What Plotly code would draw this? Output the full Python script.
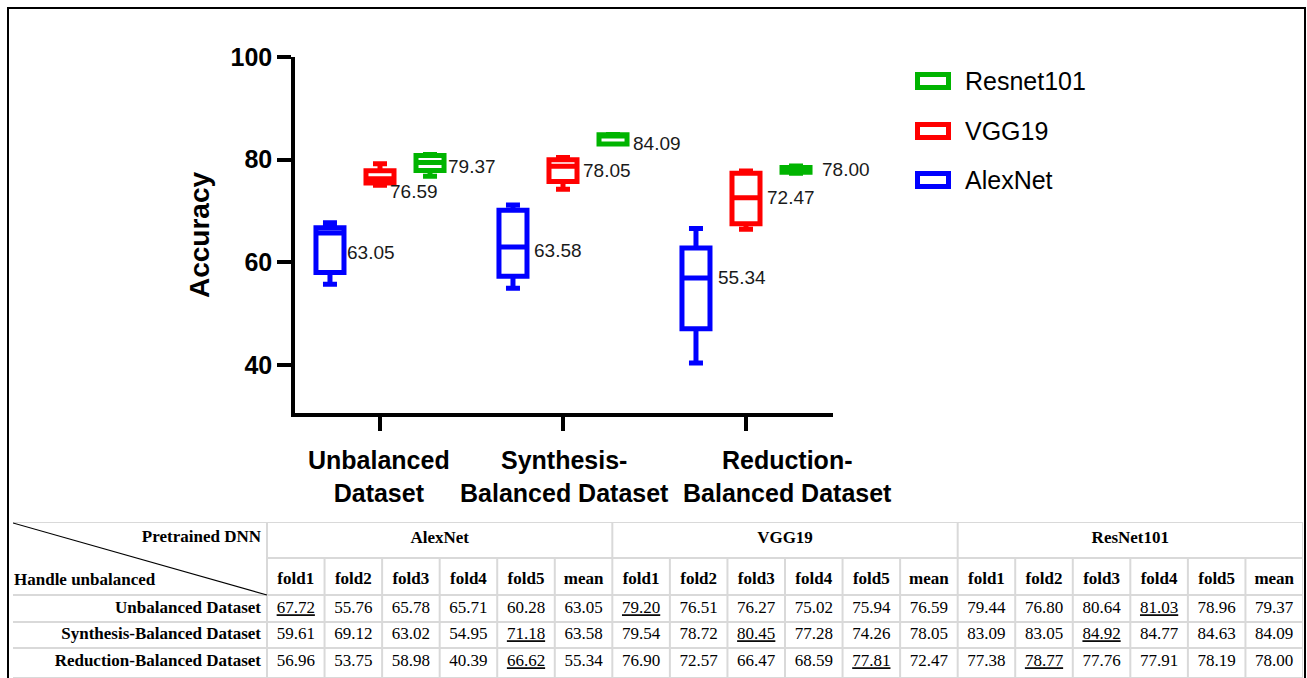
import plotly.graph_objects as go

# ---------------- data ----------------
categories = ["Unbalanced Dataset", "Synthesis-Balanced Dataset", "Reduction-Balanced Dataset"]
category_labels = ["Unbalanced<br>Dataset", "Synthesis-<br>Balanced Dataset", "Reduction-<br>Balanced Dataset"]
models = ["AlexNet", "VGG19", "Resnet101"]
table_models = ["AlexNet", "VGG19", "ResNet101"]
fold_names = ["fold1", "fold2", "fold3", "fold4", "fold5"]
y_ticks = [40, 60, 80, 100]

alexnet_folds = [
    [67.72, 55.76, 65.78, 65.71, 60.28],
    [59.61, 69.12, 63.02, 54.95, 71.18],
    [56.96, 53.75, 58.98, 40.39, 66.62],
]
vgg19_folds = [
    [79.20, 76.51, 76.27, 75.02, 75.94],
    [79.54, 78.72, 80.45, 77.28, 74.26],
    [76.90, 72.57, 66.47, 68.59, 77.81],
]
resnet101_folds = [
    [79.44, 76.80, 80.64, 81.03, 78.96],
    [83.09, 83.05, 84.92, 84.77, 84.63],
    [77.38, 78.77, 77.76, 77.91, 78.19],
]
alexnet_mean = [63.05, 63.58, 55.34]
vgg19_mean = [76.59, 78.05, 72.47]
resnet101_mean = [79.37, 84.09, 78.00]

all_folds = [alexnet_folds, vgg19_folds, resnet101_folds]
all_means = [alexnet_mean, vgg19_mean, resnet101_mean]

# ---------------- styles / layout helpers ----------------
W, H = 1307, 678
def px(x):
    return x / W
def py(y):
    return 1 - y / H

colors = ["#0000FF", "#FF0000", "#00B400"]
SANS = "Liberation Sans, Arial, sans-serif"
SERIF = "Liberation Serif, Times New Roman, serif"
model_offset = [-50, 0, 50]
label_dx = [[15, 19, 20], [8, 18, 19], [16, 18, 24]]
label_dy = [[-6, -6, 9], [-14, -1, 1], [-4, -5, 0]]
legend_y = {"Resnet101": 81, "VGG19": 131, "AlexNet": 180}
BOX_LW = 5

fig = go.Figure()

for name, folds, color in zip(models, all_folds, colors):
    xs = [c for c, row in zip(categories, folds) for _ in row]
    ys = [v for row in folds for v in row]
    fig.add_trace(go.Box(
        x=xs, y=ys, name=name,
        line=dict(color=color, width=BOX_LW), fillcolor="rgba(255,255,255,1)",
        boxpoints=False, quartilemethod="exclusive", whiskerwidth=0.5,
        showlegend=False, xaxis="x", yaxis="y", hoverinfo="skip",
    ))

annotations = []
for i, means in enumerate(all_means):
    for j, m in enumerate(means):
        annotations.append(dict(
            x=categories[j], y=m, xref="x", yref="y",
            text=f"{m:.2f}", showarrow=False, xanchor="left", yanchor="middle",
            xshift=model_offset[i] + label_dx[i][j], yshift=label_dy[i][j],
            font=dict(family=SANS, size=19, color="#1a1a1a"),
        ))

cat_shift = [-1, 1, 41]
for j, lab in enumerate(category_labels):
    annotations.append(dict(
        x=categories[j], y=py(476), xref="x", yref="paper",
        text=f"<b>{lab}</b>", showarrow=False, xanchor="center", yanchor="middle",
        align="center", xshift=cat_shift[j],
        font=dict(family=SANS, size=25, color="black"),
    ))

shapes = []
for name, color in zip(models, colors):
    yc = legend_y[name]
    shapes.append(dict(type="rect", xref="paper", yref="paper",
                       x0=px(917.5), x1=px(948.5), y0=py(yc + 6.5), y1=py(yc - 6.5),
                       line=dict(color=color, width=BOX_LW), fillcolor="white"))
    annotations.append(dict(x=px(963), y=py(yc), xref="paper", yref="paper",
                            text=name, showarrow=False, xanchor="left", yanchor="middle",
                            font=dict(family=SANS, size=25, color="black")))

# ---------------- table (drawn on its own x2/y2 axes, units = px from table corner) ----------------
GRID = "#d9d9d9"
TBL_W, TBL_H = 1290, 156
first_w = 254
col_w = (TBL_W - first_w) / 18
row_edges = [0, 36, 73, 100, 126, 156]
y_model_hdr, y_fold_hdr = 17, 58
row_y = [87, 113, 140]

col_edges = [first_w + k * col_w for k in range(19)]
col_centers = [first_w + (k + 0.5) * col_w for k in range(18)]

# header texts
hx, hy, htxt, hpos = [], [], [], []
hx.append(first_w - 6); hy.append(y_model_hdr - 1); htxt.append("<b>Pretrained DNN</b>"); hpos.append("middle left")
hx.append(1); hy.append(y_fold_hdr + 1); htxt.append("<b>Handle unbalanced</b>"); hpos.append("middle right")
for m, name in enumerate(table_models):
    hx.append(first_w + col_w * 6 * (m + 0.5)); hy.append(y_model_hdr); htxt.append(f"<b>{name}</b>"); hpos.append("middle center")
fold_hdr = (fold_names + ["mean"]) * 3
for k, fn in enumerate(fold_hdr):
    hx.append(col_centers[k]); hy.append(y_fold_hdr); htxt.append(f"<b>{fn}</b>"); hpos.append("middle center")
for r, c in enumerate(categories):
    hx.append(first_w - 6); hy.append(row_y[r]); htxt.append(f"<b>{c}</b>"); hpos.append("middle left")

fig.add_trace(go.Scatter(
    x=hx, y=hy, text=htxt, textposition=hpos, mode="text",
    textfont=dict(family=SERIF, size=17, color="black"),
    xaxis="x2", yaxis="y2", showlegend=False, hoverinfo="skip", cliponaxis=False,
))

# value texts
vx, vy, vtxt = [], [], []
k = 0
for folds, means in zip(all_folds, all_means):
    for f in range(5):
        for r, row in enumerate(folds):
            v = row[f]
            s = f"{v:.2f}"
            vx.append(col_centers[k]); vy.append(row_y[r])
            vtxt.append(f"<u>{s}</u>" if v == max(row) else s)
        k += 1
    for r, m in enumerate(means):
        vx.append(col_centers[k]); vy.append(row_y[r]); vtxt.append(f"{m:.2f}")
    k += 1

fig.add_trace(go.Scatter(
    x=vx, y=vy, text=vtxt, textposition="middle center", mode="text",
    textfont=dict(family=SERIF, size=17, color="black"),
    xaxis="x2", yaxis="y2", showlegend=False, hoverinfo="skip", cliponaxis=False,
))

def tline(x0, y0, x1, y1, color=GRID, width=2):
    shapes.append(dict(type="line", xref="x2", yref="y2", x0=x0, y0=y0, x1=x1, y1=y1,
                       line=dict(color=color, width=width), layer="below"))

# horizontal grid lines
tline(0, row_edges[0], TBL_W, row_edges[0])
tline(first_w, row_edges[1], TBL_W, row_edges[1])
for e in row_edges[2:]:
    tline(0, e, TBL_W, e)
# vertical grid lines
for idx, e in enumerate(col_edges):
    if idx % 6 == 0:
        tline(e, 0, e, TBL_H)
    else:
        tline(e, row_edges[1], e, TBL_H)
# diagonal in the corner cell
shapes.append(dict(type="line", xref="x2", yref="y2", x0=0, y0=1, x1=first_w, y1=row_edges[2],
                   line=dict(color="black", width=1.2)))

# outer frame
shapes.append(dict(type="rect", xref="paper", yref="paper", layer="above",
                   x0=px(8), y0=py(8), x1=px(1305), y1=py(690),
                   line=dict(color="black", width=2), fillcolor="rgba(0,0,0,0)"))

hidden = dict(showgrid=False, zeroline=False, showticklabels=False, showline=False,
              ticks="", fixedrange=True, automargin=False)

PLOT_L, PLOT_R, PLOT_T, PLOT_B = 295, 833, 57, 413
CAT_PX = 183.0          # pixels per category
CAT0_PX = 380           # pixel of first category
Y_PX_PER_UNIT = 102.7 / 20
x_range = [-(CAT0_PX - PLOT_L) / CAT_PX, (PLOT_R - CAT0_PX) / CAT_PX]
y_range = [100 - (PLOT_B - PLOT_T) / Y_PX_PER_UNIT, 100]

fig.update_layout(
    width=W, height=H, autosize=False,
    margin=dict(l=0, r=0, t=0, b=0, pad=0, autoexpand=False),
    paper_bgcolor="white", plot_bgcolor="white",
    boxmode="group", boxgap=0.18, boxgroupgap=0.44,
    showlegend=False,
    xaxis=dict(domain=[px(PLOT_L), px(PLOT_R)], range=x_range, type="category",
               categoryarray=categories, showline=True, linecolor="black", linewidth=3.5,
               ticks="outside", ticklen=14, tickwidth=3.5, tickcolor="black",
               showticklabels=False, showgrid=False, zeroline=False, fixedrange=True,
               automargin=False),
    yaxis=dict(domain=[py(PLOT_B), py(PLOT_T)], range=y_range, tickvals=y_ticks,
               showline=True, linecolor="black", linewidth=3.5,
               ticks="outside", ticklen=14, tickwidth=3.5, tickcolor="black",
               tickfont=dict(family=SANS, size=25, color="black", weight="bold"),
               title=dict(text="Accuracy", standoff=14,
                          font=dict(family=SANS, size=28, color="black", weight="bold")),
               showgrid=False, zeroline=False, fixedrange=True, automargin=False),
    xaxis2=dict(domain=[px(13), px(13 + TBL_W)], range=[0, TBL_W], anchor="y2", **hidden),
    yaxis2=dict(domain=[0, py(522)], range=[TBL_H, 0], anchor="x2", **hidden),
    annotations=annotations, shapes=shapes,
)

post = (
    "document.documentElement.style.margin='0';"
    "document.body.style.margin='0';document.body.style.padding='0';"
    "document.body.style.overflow='hidden';"
    "var d=document.getElementById('{plot_id}');"
    "d.style.position='absolute';d.style.left='0px';d.style.top='0px';"
)
fig.write_html("out.html", post_script=post, config={"displayModeBar": False})
